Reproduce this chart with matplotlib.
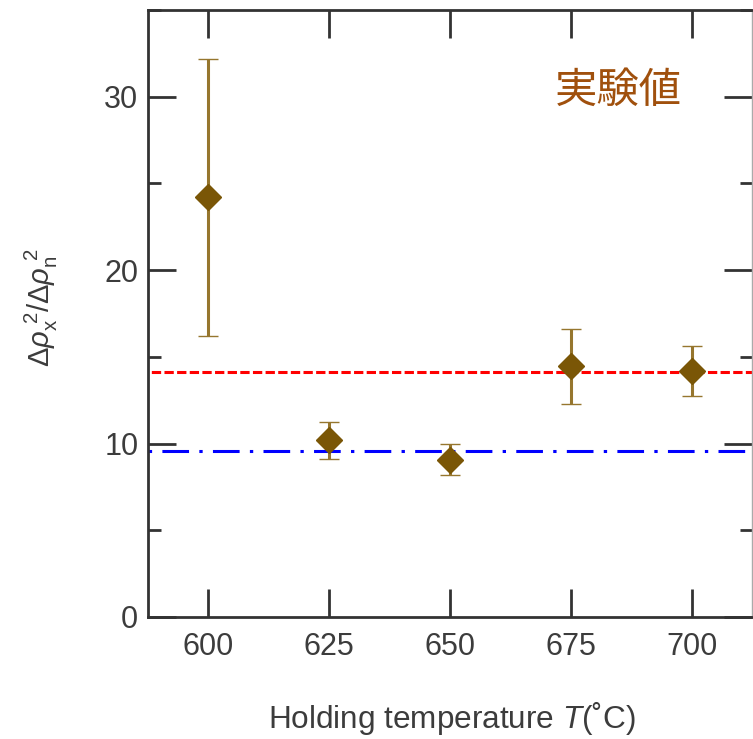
import numpy as np
import matplotlib
matplotlib.use('Agg')
import matplotlib.pyplot as plt
from matplotlib.ticker import MultipleLocator

# ── Data ─────────────────────────────────────────────────────────────────────
temps     = [600, 625, 650, 675, 700]
ratio     = [24.2, 10.2, 9.05, 14.5, 14.2]
err_upper = [32.2, 11.25, 10.0, 16.6, 15.6]
err_lower = [16.2, 9.1, 8.2, 12.3, 12.75]

red_level  = 14.1
blue_level = 9.55

x_ticks = [600, 625, 650, 675, 700]
y_ticks = [0, 10, 20, 30]

# ── Style ────────────────────────────────────────────────────────────────────
plt.rcParams['font.family'] = ['Liberation Sans', 'DejaVu Sans']
plt.rcParams['mathtext.fontset'] = 'custom'
plt.rcParams['mathtext.rm'] = 'Liberation Sans'
plt.rcParams['mathtext.it'] = 'Liberation Sans:italic'
plt.rcParams['lines.scale_dashes'] = False

TXT = '#3c3c3c'
SPINE = '#333333'

fig = plt.figure(figsize=(7.53, 7.39), dpi=100)
ax = fig.add_axes([148 / 753, 1 - 617 / 739, 604 / 753, 607 / 739])

yerr = np.array([np.array(ratio) - np.array(err_lower),
                 np.array(err_upper) - np.array(ratio)])
ax.errorbar(temps, ratio, yerr=yerr, fmt='D', ms=13.5,
            mfc='#7a5606', mec='#7a5606', mew=1,
            ecolor='#96762e', elinewidth=2.2, capsize=7.2, capthick=2.2,
            zorder=3)

# ── Reference lines ──────────────────────────────────────────────────────────
ax.axhline(red_level, color='#ff0000', lw=2.2,
           ls=(6.7, (6.7, 2.4)), zorder=2)
ax.axhline(blue_level, color='#0000ff', lw=2.2,
           ls=(26.4, (19.2, 7.4, 2.4, 7.4)), zorder=2)

ax.text(0.674, 0.866, '実験値', transform=ax.transAxes,
        fontsize=30.5, color='#a0500d', family=['Noto Sans CJK JP'],
        ha='left', va='center')

# ── Axes ─────────────────────────────────────────────────────────────────────
ax.set_xlim(587.5, 712.5)
ax.set_ylim(0, 35)
ax.set_xticks(x_ticks)
ax.set_yticks(y_ticks)
ax.yaxis.set_minor_locator(MultipleLocator(5))

ax.tick_params(which='both', direction='in', top=True, right=True,
               color=SPINE, width=2)
ax.tick_params(which='major', length=20, labelsize=22, labelcolor=TXT)
ax.tick_params(which='minor', length=9)
ax.tick_params(axis='x', pad=11)
ax.tick_params(axis='y', pad=7)

for side in ['left', 'bottom', 'top']:
    ax.spines[side].set_color(SPINE)
    ax.spines[side].set_linewidth(2)
ax.spines['right'].set_color('#aaaaaa')
ax.spines['right'].set_linewidth(1)

ax.set_xlabel('Holding temperature $T$(˚C)', fontsize=22.7, color=TXT)
ax.xaxis.set_label_coords(0.503, -0.135)
ax.set_ylabel(r'$\Delta\rho_{\mathrm{x}}^{\ 2}/\Delta\rho_{\mathrm{n}}^{\ 2}$',
              fontsize=21, color=TXT)
ax.yaxis.set_label_coords(-0.145, 0.51)

fig.savefig('out.png', dpi=100)
